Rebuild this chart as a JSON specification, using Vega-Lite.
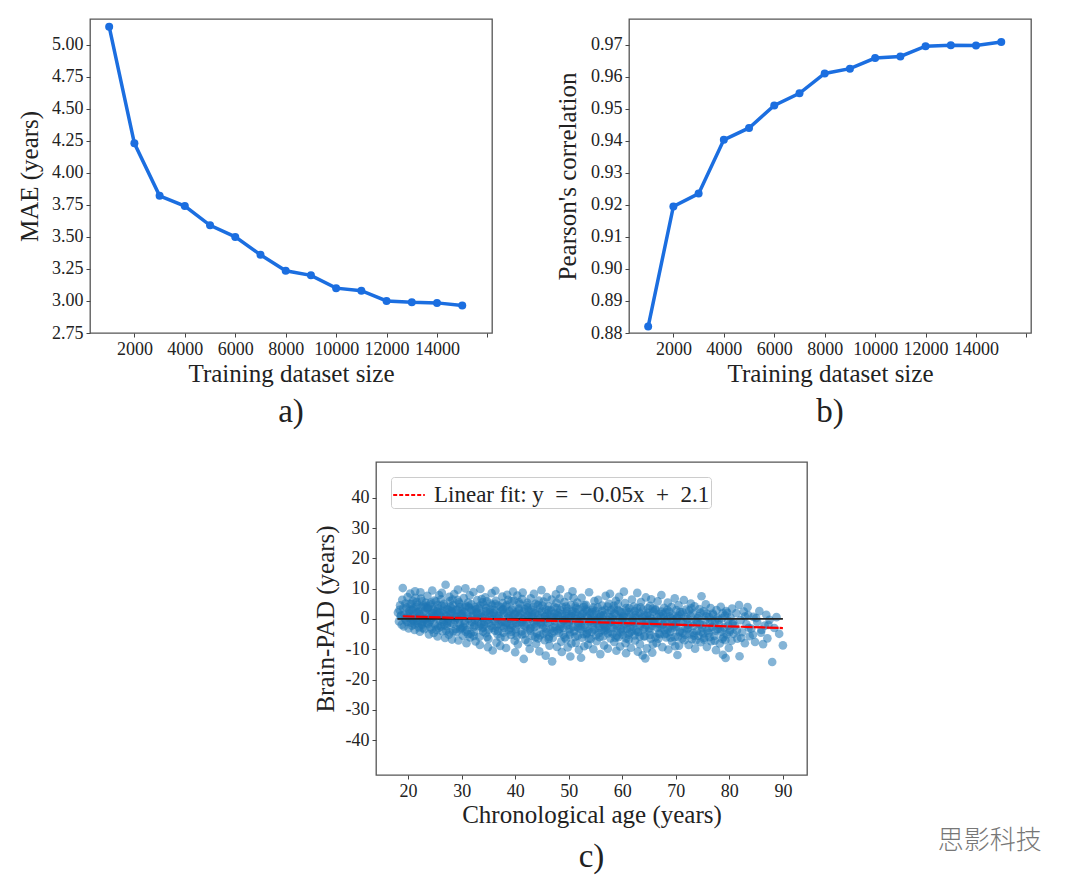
{
  "$schema": "https://vega.github.io/schema/vega-lite/v6.json",
  "background": "white",
  "padding": {"left": 16, "top": 18, "right": 10, "bottom": 0},
  "config": {
    "font": "Liberation Serif",
    "view": {"stroke": "#555", "strokeWidth": 1.3},
    "axis": {
      "domain": false, "grid": false, "tickColor": "#444", "tickSize": 4, "tickWidth": 1, "labelOverlap": false,
      "labelFont": "Liberation Serif", "labelFontSize": 18, "labelColor": "#222", "labelPadding": 3,
      "titleFont": "Liberation Serif", "titleFontSize": 25, "titleFontWeight": "normal", "titleColor": "#222"
    },
    "title": {"font": "Liberation Serif", "fontSize": 33, "fontWeight": "normal", "color": "#222"}
  },
  "title": {"text": "思影科技", "orient": "bottom", "anchor": "end", "font": "Noto Sans CJK SC", "fontSize": 26, "fontWeight": 300, "color": "#777", "dy": -51, "dx": 10},
  "spacing": 31,
  "resolve": {"scale": {"color": "independent"}, "legend": {"color": "independent"}},
  "vconcat": [
    {
      "spacing": 61,
      "hconcat": [
        {
          "width": 402, "height": 314,
          "title": {"text": "a)", "orient": "bottom", "offset": 10},
          "data": {"values": [
            {"size": 1000, "mae": 5.14}, {"size": 2000, "mae": 4.23}, {"size": 3000, "mae": 3.82},
            {"size": 4000, "mae": 3.74}, {"size": 5000, "mae": 3.59}, {"size": 6000, "mae": 3.50},
            {"size": 7000, "mae": 3.36}, {"size": 8000, "mae": 3.235}, {"size": 9000, "mae": 3.20},
            {"size": 10000, "mae": 3.10}, {"size": 11000, "mae": 3.08}, {"size": 12000, "mae": 3.00},
            {"size": 13000, "mae": 2.99}, {"size": 14000, "mae": 2.985}, {"size": 15000, "mae": 2.965}
          ]},
          "mark": {"type": "line", "color": "#1b6ee0", "strokeWidth": 3.5, "point": {"filled": true, "size": 64, "color": "#1b6ee0"}},
          "encoding": {
            "x": {"field": "size", "type": "quantitative", "scale": {"domain": [240, 16180], "nice": false},
              "axis": {"values": [2000, 4000, 6000, 8000, 10000, 12000, 14000, 16000], "format": "d", "labelExpr": "datum.value > 15000 ? '' : datum.label", "title": "Training dataset size", "titlePadding": 3}},
            "y": {"field": "mae", "type": "quantitative", "scale": {"domain": [2.75, 5.2], "nice": false, "zero": false},
              "axis": {"values": [2.75, 3.0, 3.25, 3.5, 3.75, 4.0, 4.25, 4.5, 4.75, 5.0], "format": ".2f", "title": "MAE (years)", "titlePadding": 9}}
          }
        },
        {
          "width": 402, "height": 314,
          "title": {"text": "b)", "orient": "bottom", "offset": 10},
          "data": {"values": [
            {"size": 1000, "r": 0.882}, {"size": 2000, "r": 0.9195}, {"size": 3000, "r": 0.9235},
            {"size": 4000, "r": 0.9403}, {"size": 5000, "r": 0.944}, {"size": 6000, "r": 0.951},
            {"size": 7000, "r": 0.9548}, {"size": 8000, "r": 0.961}, {"size": 9000, "r": 0.9625},
            {"size": 10000, "r": 0.9658}, {"size": 11000, "r": 0.9663}, {"size": 12000, "r": 0.9695},
            {"size": 13000, "r": 0.9698}, {"size": 14000, "r": 0.9697}, {"size": 15000, "r": 0.9708}
          ]},
          "mark": {"type": "line", "color": "#1b6ee0", "strokeWidth": 3.5, "point": {"filled": true, "size": 64, "color": "#1b6ee0"}},
          "encoding": {
            "x": {"field": "size", "type": "quantitative", "scale": {"domain": [240, 16180], "nice": false},
              "axis": {"values": [2000, 4000, 6000, 8000, 10000, 12000, 14000, 16000], "format": "d", "labelExpr": "datum.value > 15000 ? '' : datum.label", "title": "Training dataset size", "titlePadding": 3}},
            "y": {"field": "r", "type": "quantitative", "scale": {"domain": [0.88, 0.978], "nice": false, "zero": false},
              "axis": {"values": [0.88, 0.89, 0.90, 0.91, 0.92, 0.93, 0.94, 0.95, 0.96, 0.97], "format": ".2f", "title": "Pearson's correlation", "titlePadding": 10}}
          }
        }
      ]
    },
    {
      "spacing": 0,
      "resolve": {"scale": {"color": "independent"}, "legend": {"color": "independent"}},
      "hconcat": [
        {
          "width": 222, "height": 10,
          "data": {"values": []},
          "mark": {"type": "point", "opacity": 0},
          "encoding": {},
          "view": {"stroke": null}
        },
        {
          "width": 431, "height": 313,
          "title": {"text": "c)", "orient": "bottom", "offset": 14},
          "encoding": {
            "x": {"field": "age", "type": "quantitative", "scale": {"domain": [14, 94.5], "nice": false},
              "axis": {"values": [20, 30, 40, 50, 60, 70, 80, 90], "title": "Chronological age (years)", "titlePadding": 2}},
            "y": {"field": "pad", "type": "quantitative", "scale": {"domain": [-51.5, 51.8], "nice": false},
              "axis": {"values": [-40, -30, -20, -10, 0, 10, 20, 30, 40], "labelExpr": "'' + datum.value", "title": "Brain-PAD (years)", "titlePadding": 7}}
          },
          "layer": [
            {
              "data": {"values": [
                {"age":18.1,"pad":2.1},{"age":18.3,"pad":-0.8},{"age":18.5,"pad":4.5},{"age":18.6,"pad":0.9},{"age":18.8,"pad":-1.9},{"age":18.9,"pad":6.3},{"age":18.4,"pad":3.0},
                {"age":19.0,"pad":10.2},{"age":19.2,"pad":-2.5},{"age":19.3,"pad":1.4},{"age":19.5,"pad":5.1},{"age":19.6,"pad":-0.4},{"age":19.7,"pad":3.8},{"age":19.9,"pad":7.2},{"age":19.4,"pad":0.2},
                {"age":20.1,"pad":-3.1},{"age":20.2,"pad":2.6},{"age":20.4,"pad":8.4},{"age":20.5,"pad":-1.2},{"age":20.6,"pad":4.9},{"age":20.8,"pad":0.7},{"age":20.9,"pad":6.0},{"age":20.3,"pad":1.8},{"age":20.7,"pad":-2.2},
                {"age":21.0,"pad":3.4},{"age":21.2,"pad":-3.6},{"age":21.3,"pad":9.1},{"age":21.5,"pad":0.3},{"age":21.6,"pad":5.6},{"age":21.8,"pad":-1.5},{"age":21.9,"pad":2.2},{"age":21.4,"pad":7.0},{"age":21.7,"pad":-0.6},
                {"age":22.1,"pad":1.1},{"age":22.2,"pad":-4.2},{"age":22.4,"pad":6.7},{"age":22.5,"pad":3.9},{"age":22.6,"pad":-2.0},{"age":22.8,"pad":0.0},{"age":22.9,"pad":4.4},{"age":22.3,"pad":8.8},{"age":22.7,"pad":-0.9},
                {"age":23.0,"pad":-3.4},{"age":23.2,"pad":2.9},{"age":23.3,"pad":5.3},{"age":23.5,"pad":-1.3},{"age":23.6,"pad":7.6},{"age":23.8,"pad":0.6},{"age":23.9,"pad":-5.1},{"age":23.4,"pad":1.7},{"age":23.7,"pad":3.6},
                {"age":24.1,"pad":4.8},{"age":24.2,"pad":-2.7},{"age":24.4,"pad":0.4},{"age":24.5,"pad":9.4},{"age":24.6,"pad":2.0},{"age":24.8,"pad":-4.6},{"age":24.9,"pad":6.1},{"age":24.3,"pad":-0.3},{"age":24.7,"pad":3.2},
                {"age":25.0,"pad":-1.8},{"age":25.2,"pad":5.7},{"age":25.3,"pad":1.3},{"age":25.5,"pad":-5.8},{"age":25.6,"pad":3.5},{"age":25.8,"pad":7.9},{"age":25.9,"pad":-0.5},{"age":25.4,"pad":2.4},{"age":25.7,"pad":-3.0},
                {"age":26.1,"pad":0.8},{"age":26.2,"pad":6.5},{"age":26.4,"pad":-4.0},{"age":26.5,"pad":2.7},{"age":26.6,"pad":-1.1},{"age":26.8,"pad":4.1},{"age":26.9,"pad":-6.3},{"age":26.3,"pad":8.6},{"age":26.7,"pad":1.5},
                {"age":27.0,"pad":11.3},{"age":27.2,"pad":-2.4},{"age":27.3,"pad":3.3},{"age":27.5,"pad":0.1},{"age":27.6,"pad":-5.2},{"age":27.8,"pad":5.9},{"age":27.9,"pad":1.9},{"age":27.4,"pad":-0.7},{"age":27.7,"pad":7.3},{"age":27.1,"pad":-3.8},
                {"age":28.1,"pad":2.5},{"age":28.2,"pad":-6.8},{"age":28.4,"pad":4.6},{"age":28.5,"pad":-1.6},{"age":28.6,"pad":8.2},{"age":28.8,"pad":0.5},{"age":28.9,"pad":-3.3},{"age":28.3,"pad":6.4},{"age":28.7,"pad":1.0},
                {"age":29.0,"pad":-4.4},{"age":29.2,"pad":3.1},{"age":29.3,"pad":9.7},{"age":29.5,"pad":-0.2},{"age":29.6,"pad":5.0},{"age":29.8,"pad":-2.9},{"age":29.9,"pad":1.6},{"age":29.4,"pad":-7.1},{"age":29.7,"pad":3.9},
                {"age":30.1,"pad":0.9},{"age":30.2,"pad":-5.5},{"age":30.4,"pad":6.9},{"age":30.5,"pad":2.3},{"age":30.6,"pad":-1.4},{"age":30.8,"pad":4.3},{"age":30.9,"pad":-8.0},{"age":30.3,"pad":-2.6},{"age":30.7,"pad":10.1},{"age":30.0,"pad":1.2},
                {"age":31.0,"pad":-3.7},{"age":31.2,"pad":5.4},{"age":31.3,"pad":0.0},{"age":31.5,"pad":7.8},{"age":31.6,"pad":-6.1},{"age":31.8,"pad":2.8},{"age":31.9,"pad":-1.0},{"age":31.4,"pad":3.7},{"age":31.7,"pad":-4.9},
                {"age":32.1,"pad":1.4},{"age":32.2,"pad":8.9},{"age":32.4,"pad":-2.1},{"age":32.5,"pad":4.0},{"age":32.6,"pad":-7.4},{"age":32.8,"pad":0.3},{"age":32.9,"pad":6.2},{"age":32.3,"pad":-4.3},{"age":32.7,"pad":2.1},
                {"age":33.0,"pad":-0.8},{"age":33.2,"pad":3.6},{"age":33.3,"pad":-5.9},{"age":33.5,"pad":9.9},{"age":33.6,"pad":1.8},{"age":33.8,"pad":-3.1},{"age":33.9,"pad":5.5},{"age":33.4,"pad":-8.6},{"age":33.7,"pad":0.6},
                {"age":34.1,"pad":4.7},{"age":34.2,"pad":-1.9},{"age":34.4,"pad":7.1},{"age":34.5,"pad":-4.7},{"age":34.6,"pad":2.4},{"age":34.8,"pad":-0.4},{"age":34.9,"pad":-9.3},{"age":34.3,"pad":1.1},{"age":34.7,"pad":5.8},{"age":34.0,"pad":-2.8},
                {"age":35.0,"pad":-6.6},{"age":35.2,"pad":0.7},{"age":35.3,"pad":3.2},{"age":35.5,"pad":-2.3},{"age":35.6,"pad":8.5},{"age":35.8,"pad":-10.4},{"age":35.9,"pad":1.9},{"age":35.4,"pad":5.1},{"age":35.7,"pad":-0.1},
                {"age":36.1,"pad":2.9},{"age":36.2,"pad":-3.9},{"age":36.4,"pad":6.0},{"age":36.5,"pad":-7.8},{"age":36.6,"pad":0.2},{"age":36.8,"pad":4.4},{"age":36.9,"pad":-1.7},{"age":36.3,"pad":9.3},{"age":36.7,"pad":-5.0},
                {"age":37.0,"pad":1.0},{"age":37.2,"pad":-8.9},{"age":37.3,"pad":3.8},{"age":37.5,"pad":-0.9},{"age":37.6,"pad":7.4},{"age":37.8,"pad":-4.5},{"age":37.9,"pad":2.0},{"age":37.4,"pad":-2.4},{"age":37.7,"pad":5.2},
                {"age":38.1,"pad":-6.0},{"age":38.2,"pad":4.1},{"age":38.4,"pad":-1.3},{"age":38.5,"pad":8.0},{"age":38.6,"pad":0.4},{"age":38.8,"pad":-3.6},{"age":38.9,"pad":2.6},{"age":38.3,"pad":-9.6},{"age":38.7,"pad":6.3},
                {"age":39.0,"pad":0.1},{"age":39.2,"pad":-5.3},{"age":39.3,"pad":5.9},{"age":39.5,"pad":-2.0},{"age":39.6,"pad":9.0},{"age":39.8,"pad":1.5},{"age":39.9,"pad":-7.2},{"age":39.4,"pad":3.0},{"age":39.7,"pad":-0.6},
                {"age":40.1,"pad":-3.4},{"age":40.2,"pad":2.2},{"age":40.4,"pad":7.7},{"age":40.5,"pad":-8.4},{"age":40.6,"pad":0.8},{"age":40.8,"pad":4.9},{"age":40.9,"pad":-1.1},{"age":40.3,"pad":-5.7},{"age":40.7,"pad":3.4},{"age":40.0,"pad":-11.0},
                {"age":41.0,"pad":1.7},{"age":41.2,"pad":-4.1},{"age":41.3,"pad":6.6},{"age":41.5,"pad":-0.3},{"age":41.6,"pad":-13.2},{"age":41.8,"pad":3.3},{"age":41.9,"pad":-6.9},{"age":41.4,"pad":8.7},{"age":41.7,"pad":-2.2},
                {"age":42.1,"pad":-1.6},{"age":42.2,"pad":4.5},{"age":42.4,"pad":-7.7},{"age":42.5,"pad":2.7},{"age":42.6,"pad":0.0},{"age":42.8,"pad":-3.9},{"age":42.9,"pad":6.8},{"age":42.3,"pad":1.2},{"age":42.7,"pad":-9.9},
                {"age":43.0,"pad":3.0},{"age":43.2,"pad":-5.6},{"age":43.3,"pad":0.5},{"age":43.5,"pad":8.3},{"age":43.6,"pad":-2.7},{"age":43.8,"pad":5.0},{"age":43.9,"pad":-8.2},{"age":43.4,"pad":-0.9},{"age":43.7,"pad":1.9},
                {"age":44.1,"pad":-4.8},{"age":44.2,"pad":1.3},{"age":44.4,"pad":6.1},{"age":44.5,"pad":-10.7},{"age":44.6,"pad":3.5},{"age":44.8,"pad":-1.5},{"age":44.9,"pad":9.5},{"age":44.3,"pad":-6.4},{"age":44.7,"pad":0.3},
                {"age":45.0,"pad":2.4},{"age":45.2,"pad":-2.9},{"age":45.3,"pad":5.7},{"age":45.5,"pad":-7.0},{"age":45.6,"pad":0.9},{"age":45.8,"pad":-4.4},{"age":45.9,"pad":7.2},{"age":45.4,"pad":-0.2},{"age":45.7,"pad":-12.1},
                {"age":46.1,"pad":-1.2},{"age":46.2,"pad":4.2},{"age":46.4,"pad":-8.8},{"age":46.5,"pad":1.6},{"age":46.6,"pad":-3.5},{"age":46.8,"pad":6.4},{"age":46.9,"pad":-14.0},{"age":46.3,"pad":-5.9},{"age":46.7,"pad":2.8},{"age":46.0,"pad":0.1},
                {"age":47.0,"pad":-6.3},{"age":47.2,"pad":0.6},{"age":47.3,"pad":3.9},{"age":47.5,"pad":-2.5},{"age":47.6,"pad":8.1},{"age":47.8,"pad":-9.2},{"age":47.9,"pad":1.4},{"age":47.4,"pad":-0.7},{"age":47.7,"pad":5.3},
                {"age":48.1,"pad":2.0},{"age":48.2,"pad":-4.6},{"age":48.4,"pad":9.8},{"age":48.5,"pad":-1.8},{"age":48.6,"pad":-7.5},{"age":48.8,"pad":4.0},{"age":48.9,"pad":-0.4},{"age":48.3,"pad":6.7},{"age":48.7,"pad":-10.9},
                {"age":49.0,"pad":-3.0},{"age":49.2,"pad":5.6},{"age":49.3,"pad":-0.1},{"age":49.5,"pad":-6.7},{"age":49.6,"pad":2.5},{"age":49.8,"pad":-9.4},{"age":49.9,"pad":7.5},{"age":49.4,"pad":1.0},{"age":49.7,"pad":-2.1},
                {"age":50.1,"pad":0.4},{"age":50.2,"pad":-5.2},{"age":50.4,"pad":4.6},{"age":50.5,"pad":-8.1},{"age":50.6,"pad":1.8},{"age":50.8,"pad":-2.6},{"age":50.9,"pad":6.9},{"age":50.3,"pad":-12.4},{"age":50.7,"pad":9.1},{"age":50.0,"pad":-0.9},
                {"age":51.0,"pad":-4.0},{"age":51.2,"pad":2.3},{"age":51.3,"pad":-7.9},{"age":51.5,"pad":0.0},{"age":51.6,"pad":5.4},{"age":51.8,"pad":-1.4},{"age":51.9,"pad":-10.2},{"age":51.4,"pad":3.6},{"age":51.7,"pad":-5.5},
                {"age":52.1,"pad":1.1},{"age":52.2,"pad":-3.3},{"age":52.4,"pad":7.0},{"age":52.5,"pad":-6.2},{"age":52.6,"pad":-0.6},{"age":52.8,"pad":3.9},{"age":52.9,"pad":-9.0},{"age":52.3,"pad":-12.8},{"age":52.7,"pad":2.0},
                {"age":53.0,"pad":-2.0},{"age":53.2,"pad":4.7},{"age":53.3,"pad":-5.0},{"age":53.5,"pad":0.8},{"age":53.6,"pad":-8.5},{"age":53.8,"pad":8.8},{"age":53.9,"pad":-1.0},{"age":53.4,"pad":2.6},{"age":53.7,"pad":-3.8},
                {"age":54.1,"pad":-6.6},{"age":54.2,"pad":0.2},{"age":54.4,"pad":3.1},{"age":54.5,"pad":-2.8},{"age":54.6,"pad":-10.0},{"age":54.8,"pad":5.9},{"age":54.9,"pad":-0.3},{"age":54.3,"pad":-4.3},{"age":54.7,"pad":1.5},
                {"age":55.0,"pad":2.6},{"age":55.2,"pad":-7.3},{"age":55.3,"pad":-1.5},{"age":55.5,"pad":6.3},{"age":55.6,"pad":-4.7},{"age":55.8,"pad":0.5},{"age":55.9,"pad":-11.6},{"age":55.4,"pad":3.8},{"age":55.7,"pad":-2.3},
                {"age":56.1,"pad":-0.8},{"age":56.2,"pad":4.4},{"age":56.4,"pad":-5.8},{"age":56.5,"pad":1.3},{"age":56.6,"pad":-8.7},{"age":56.8,"pad":-2.9},{"age":56.9,"pad":7.6},{"age":56.3,"pad":0.0},{"age":56.7,"pad":-4.0},
                {"age":57.0,"pad":-3.5},{"age":57.2,"pad":1.9},{"age":57.3,"pad":-9.8},{"age":57.5,"pad":5.0},{"age":57.6,"pad":-1.2},{"age":57.8,"pad":-6.4},{"age":57.9,"pad":2.9},{"age":57.4,"pad":-0.5},{"age":57.7,"pad":8.3},
                {"age":58.1,"pad":0.6},{"age":58.2,"pad":-4.9},{"age":58.4,"pad":3.4},{"age":58.5,"pad":-7.6},{"age":58.6,"pad":-1.9},{"age":58.8,"pad":6.0},{"age":58.9,"pad":-10.5},{"age":58.3,"pad":-3.0},{"age":58.7,"pad":1.7},
                {"age":59.0,"pad":-2.4},{"age":59.2,"pad":4.8},{"age":59.3,"pad":-6.0},{"age":59.5,"pad":0.3},{"age":59.6,"pad":-9.1},{"age":59.8,"pad":2.2},{"age":59.9,"pad":-0.9},{"age":59.4,"pad":7.3},{"age":59.7,"pad":-4.4},
                {"age":60.1,"pad":-5.3},{"age":60.2,"pad":1.0},{"age":60.4,"pad":-1.6},{"age":60.5,"pad":5.2},{"age":60.6,"pad":-8.0},{"age":60.8,"pad":2.7},{"age":60.9,"pad":-3.2},{"age":60.3,"pad":9.0},{"age":60.7,"pad":-11.3},
                {"age":61.0,"pad":0.7},{"age":61.2,"pad":-6.8},{"age":61.3,"pad":3.6},{"age":61.5,"pad":-2.7},{"age":61.6,"pad":-9.5},{"age":61.8,"pad":6.4},{"age":61.9,"pad":-0.2},{"age":61.4,"pad":-4.5},
                {"age":62.1,"pad":-1.1},{"age":62.2,"pad":4.1},{"age":62.4,"pad":-7.1},{"age":62.5,"pad":1.4},{"age":62.6,"pad":-3.7},{"age":62.8,"pad":8.6},{"age":62.9,"pad":-10.8},{"age":62.3,"pad":-5.4},
                {"age":63.0,"pad":-4.2},{"age":63.2,"pad":2.0},{"age":63.3,"pad":-8.3},{"age":63.5,"pad":5.6},{"age":63.6,"pad":-0.7},{"age":63.8,"pad":-12.0},{"age":63.9,"pad":3.0},{"age":63.4,"pad":-2.2},
                {"age":64.1,"pad":1.2},{"age":64.2,"pad":-5.7},{"age":64.4,"pad":7.1},{"age":64.5,"pad":-2.0},{"age":64.6,"pad":-9.7},{"age":64.8,"pad":3.5},{"age":64.9,"pad":-0.4},{"age":64.3,"pad":-13.0},
                {"age":65.0,"pad":-3.1},{"age":65.2,"pad":4.3},{"age":65.3,"pad":-6.5},{"age":65.5,"pad":0.1},{"age":65.6,"pad":-11.1},{"age":65.8,"pad":2.4},{"age":65.9,"pad":-1.5},{"age":65.4,"pad":6.5},{"age":65.7,"pad":-8.4},
                {"age":66.1,"pad":-0.6},{"age":66.2,"pad":3.2},{"age":66.4,"pad":-7.9},{"age":66.5,"pad":-2.9},{"age":66.6,"pad":5.8},{"age":66.8,"pad":-4.8},{"age":66.9,"pad":1.6},
                {"age":67.0,"pad":-5.0},{"age":67.2,"pad":0.9},{"age":67.3,"pad":7.9},{"age":67.5,"pad":-9.3},{"age":67.6,"pad":-1.8},{"age":67.8,"pad":3.7},{"age":67.9,"pad":-3.6},
                {"age":68.1,"pad":2.1},{"age":68.2,"pad":-6.1},{"age":68.4,"pad":-0.3},{"age":68.5,"pad":5.4},{"age":68.6,"pad":-10.1},{"age":68.8,"pad":-2.5},{"age":68.9,"pad":0.8},
                {"age":69.0,"pad":-4.3},{"age":69.2,"pad":3.9},{"age":69.3,"pad":-7.4},{"age":69.5,"pad":1.2},{"age":69.6,"pad":-1.9},{"age":69.8,"pad":6.8},{"age":69.9,"pad":-9.0},
                {"age":70.1,"pad":-2.6},{"age":70.2,"pad":0.4},{"age":70.4,"pad":-5.9},{"age":70.5,"pad":4.5},{"age":70.6,"pad":-8.8},{"age":70.8,"pad":2.3},{"age":70.9,"pad":-0.9},{"age":70.3,"pad":-11.9},
                {"age":71.0,"pad":1.5},{"age":71.2,"pad":-4.6},{"age":71.3,"pad":-1.0},{"age":71.5,"pad":6.2},{"age":71.6,"pad":-7.0},{"age":71.8,"pad":-2.8},{"age":71.9,"pad":3.1},
                {"age":72.1,"pad":-3.4},{"age":72.2,"pad":0.0},{"age":72.4,"pad":-8.6},{"age":72.5,"pad":2.8},{"age":72.6,"pad":-5.1},{"age":72.8,"pad":5.1},{"age":72.9,"pad":-1.4},
                {"age":73.0,"pad":-6.7},{"age":73.2,"pad":1.8},{"age":73.3,"pad":-2.3},{"age":73.5,"pad":4.2},{"age":73.6,"pad":-9.8},{"age":73.8,"pad":-0.5},{"age":73.9,"pad":-4.0},
                {"age":74.1,"pad":0.3},{"age":74.2,"pad":-5.5},{"age":74.4,"pad":3.3},{"age":74.5,"pad":-1.7},{"age":74.6,"pad":-7.7},{"age":74.8,"pad":7.5},{"age":74.9,"pad":-3.0},
                {"age":75.0,"pad":-2.0},{"age":75.2,"pad":2.5},{"age":75.3,"pad":-6.3},{"age":75.5,"pad":-0.4},{"age":75.6,"pad":4.8},{"age":75.8,"pad":-9.2},{"age":75.9,"pad":-3.9},
                {"age":76.1,"pad":-4.7},{"age":76.2,"pad":0.6},{"age":76.4,"pad":-1.3},{"age":76.5,"pad":3.6},{"age":76.6,"pad":-7.3},{"age":76.8,"pad":-2.6},
                {"age":77.0,"pad":1.4},{"age":77.2,"pad":-5.6},{"age":77.3,"pad":-0.8},{"age":77.5,"pad":-10.3},{"age":77.6,"pad":2.9},{"age":77.8,"pad":-3.3},
                {"age":78.1,"pad":-1.9},{"age":78.2,"pad":-8.1},{"age":78.4,"pad":4.0},{"age":78.5,"pad":-4.2},{"age":78.6,"pad":0.2},{"age":78.8,"pad":-11.8},{"age":78.9,"pad":-6.0},
                {"age":79.0,"pad":-2.8},{"age":79.2,"pad":1.1},{"age":79.3,"pad":-12.9},{"age":79.5,"pad":-5.1},{"age":79.6,"pad":2.0},{"age":79.8,"pad":-0.6},{"age":79.9,"pad":-9.6},
                {"age":80.1,"pad":-3.7},{"age":80.2,"pad":0.5},{"age":80.4,"pad":-7.2},{"age":80.5,"pad":3.4},{"age":80.6,"pad":-1.6},{"age":80.8,"pad":-4.9},
                {"age":81.0,"pad":-2.3},{"age":81.3,"pad":1.9},{"age":81.5,"pad":-6.5},{"age":81.8,"pad":4.6},{"age":81.9,"pad":-12.3},
                {"age":82.1,"pad":-0.4},{"age":82.4,"pad":-4.4},{"age":82.7,"pad":2.4},{"age":82.9,"pad":-8.0},
                {"age":83.2,"pad":-1.8},{"age":83.5,"pad":1.3},{"age":83.8,"pad":-5.7},{"age":83.4,"pad":3.9},
                {"age":84.1,"pad":-3.2},{"age":84.5,"pad":0.7},{"age":84.8,"pad":-7.6},
                {"age":85.2,"pad":-1.0},{"age":85.6,"pad":2.6},{"age":85.9,"pad":-4.5},
                {"age":86.3,"pad":-8.3},{"age":86.6,"pad":-2.2},{"age":86.9,"pad":1.4},
                {"age":87.1,"pad":-6.4},{"age":87.5,"pad":-0.3},
                {"age":88.0,"pad":-14.2},{"age":88.4,"pad":-3.0},{"age":88.8,"pad":0.6},
                {"age":89.3,"pad":-4.9},{"age":90.0,"pad":-8.7},
                {"age":20.0,"pad":1.0},{"age":20.5,"pad":3.1},{"age":21.1,"pad":-0.8},{"age":21.6,"pad":2.0},
                {"age":22.0,"pad":2.4},{"age":22.5,"pad":-1.6},{"age":23.1,"pad":0.3},{"age":23.6,"pad":3.4},
                {"age":24.0,"pad":-1.0},{"age":24.5,"pad":1.9},{"age":25.1,"pad":0.6},{"age":25.6,"pad":-2.2},
                {"age":26.0,"pad":2.2},{"age":26.5,"pad":-0.3},{"age":27.1,"pad":1.0},{"age":27.6,"pad":3.0},
                {"age":28.0,"pad":-1.2},{"age":28.5,"pad":2.0},{"age":29.1,"pad":0.5},{"age":29.6,"pad":-1.8},
                {"age":30.0,"pad":2.7},{"age":30.5,"pad":-0.6},{"age":31.1,"pad":1.1},{"age":31.6,"pad":-2.0},
                {"age":32.0,"pad":3.0},{"age":32.5,"pad":-0.2},{"age":33.1,"pad":1.5},{"age":33.6,"pad":-1.7},
                {"age":34.0,"pad":0.2},{"age":34.5,"pad":2.6},{"age":35.1,"pad":-1.3},{"age":35.6,"pad":1.2},
                {"age":36.0,"pad":2.0},{"age":36.5,"pad":-2.4},{"age":37.1,"pad":0.0},{"age":37.6,"pad":3.0},
                {"age":38.0,"pad":-1.0},{"age":38.5,"pad":1.8},{"age":39.1,"pad":-3.0},{"age":39.6,"pad":0.5},
                {"age":40.0,"pad":1.6},{"age":40.5,"pad":-1.9},{"age":41.1,"pad":0.2},{"age":41.6,"pad":2.4},
                {"age":42.0,"pad":-2.5},{"age":42.5,"pad":0.9},{"age":43.1,"pad":1.3},{"age":43.6,"pad":-1.5},
                {"age":44.0,"pad":-0.4},{"age":44.5,"pad":2.1},{"age":45.1,"pad":-2.0},{"age":45.6,"pad":0.7},
                {"age":46.0,"pad":1.9},{"age":46.5,"pad":-0.9},{"age":47.1,"pad":-2.8},{"age":47.6,"pad":0.3},
                {"age":48.0,"pad":1.0},{"age":48.5,"pad":-2.6},{"age":49.1,"pad":-0.5},{"age":49.6,"pad":1.7},
                {"age":50.0,"pad":-1.9},{"age":50.5,"pad":0.9},{"age":51.1,"pad":1.2},{"age":51.6,"pad":-2.6},
                {"age":52.0,"pad":-0.7},{"age":52.5,"pad":1.6},{"age":53.1,"pad":-2.9},{"age":53.6,"pad":0.1},
                {"age":54.0,"pad":1.8},{"age":54.5,"pad":-1.4},{"age":55.1,"pad":-0.6},{"age":55.6,"pad":-3.0},
                {"age":56.0,"pad":1.0},{"age":56.5,"pad":-1.8},{"age":57.1,"pad":-2.4},{"age":57.6,"pad":0.6},
                {"age":58.0,"pad":-0.9},{"age":58.5,"pad":1.8},{"age":59.1,"pad":-3.1},{"age":59.6,"pad":-0.2},
                {"age":60.0,"pad":0.3},{"age":60.5,"pad":-2.1},{"age":61.1,"pad":-1.3},{"age":61.6,"pad":1.5},
                {"age":62.0,"pad":-2.6},{"age":62.5,"pad":0.4},{"age":63.1,"pad":0.9},{"age":63.6,"pad":-1.6},
                {"age":64.0,"pad":-3.4},{"age":64.5,"pad":-0.5},{"age":65.1,"pad":1.1},{"age":65.6,"pad":-2.3},
                {"age":66.0,"pad":-1.2},{"age":66.5,"pad":0.6},{"age":67.1,"pad":-2.9},{"age":67.6,"pad":1.6},
                {"age":68.0,"pad":-0.8},{"age":68.5,"pad":-3.5},{"age":69.1,"pad":0.2},{"age":69.6,"pad":-2.4},
                {"age":70.0,"pad":-1.5},{"age":70.5,"pad":1.0},
                {"age":18.7,"pad":1.2},{"age":19.1,"pad":3.5},{"age":19.8,"pad":-1.0},{"age":20.3,"pad":5.0},{"age":20.9,"pad":-0.5},
                {"age":21.5,"pad":4.0},{"age":22.0,"pad":-2.8},{"age":22.6,"pad":5.8},{"age":23.2,"pad":-0.2},{"age":23.8,"pad":4.2},
                {"age":24.4,"pad":-3.5},{"age":24.9,"pad":2.8},{"age":25.5,"pad":4.6},{"age":26.1,"pad":-2.5},{"age":26.7,"pad":5.0},
                {"age":27.3,"pad":-1.5},{"age":27.9,"pad":4.0},{"age":28.4,"pad":-4.0},{"age":29.0,"pad":2.9},{"age":29.5,"pad":5.5},
                {"age":30.1,"pad":-3.0},{"age":30.6,"pad":3.8},{"age":31.2,"pad":-5.0},{"age":31.8,"pad":4.8},{"age":32.3,"pad":-2.6},
                {"age":32.9,"pad":2.0},{"age":33.4,"pad":4.4},{"age":34.0,"pad":-4.2},{"age":34.6,"pad":3.6},{"age":35.1,"pad":-3.5},
                {"age":35.7,"pad":4.5},{"age":36.2,"pad":-0.7},{"age":36.8,"pad":-4.0},{"age":37.3,"pad":2.5},{"age":37.9,"pad":-3.0},
                {"age":38.4,"pad":4.6},{"age":39.0,"pad":-1.9},{"age":39.5,"pad":3.4},{"age":40.1,"pad":-4.5},{"age":40.7,"pad":5.5},
                {"age":41.2,"pad":-1.2},{"age":41.8,"pad":-5.0},{"age":42.3,"pad":3.8},{"age":42.9,"pad":-3.0},{"age":43.4,"pad":4.0},
                {"age":44.0,"pad":-2.2},{"age":44.6,"pad":-5.4},{"age":45.1,"pad":4.4},{"age":45.7,"pad":-3.2},{"age":46.2,"pad":2.9},
                {"age":46.8,"pad":-4.8},{"age":47.3,"pad":1.8},{"age":47.9,"pad":-3.8},{"age":48.4,"pad":3.0},{"age":49.0,"pad":-5.2},
                {"age":49.5,"pad":4.1},{"age":50.1,"pad":-3.4},{"age":50.7,"pad":2.6},{"age":51.2,"pad":-5.9},{"age":51.8,"pad":3.2},
                {"age":52.3,"pad":-2.4},{"age":52.9,"pad":4.5},{"age":53.4,"pad":-4.6},{"age":54.0,"pad":-0.6},{"age":54.6,"pad":3.8},
                {"age":55.1,"pad":-5.4},{"age":55.7,"pad":1.5},{"age":56.2,"pad":-3.6},{"age":56.8,"pad":3.0},{"age":57.3,"pad":-4.8},
                {"age":57.9,"pad":-1.0},{"age":58.4,"pad":4.3},{"age":59.0,"pad":-5.5},{"age":59.5,"pad":2.5},{"age":60.1,"pad":-3.8},
                {"age":60.7,"pad":3.6},{"age":61.2,"pad":-5.2},{"age":61.8,"pad":-0.8},{"age":62.3,"pad":2.6},{"age":62.9,"pad":-4.4},
                {"age":63.4,"pad":3.8},{"age":64.0,"pad":-5.8},{"age":64.6,"pad":1.0},{"age":65.1,"pad":-4.0},{"age":65.7,"pad":3.4},
                {"age":66.2,"pad":-6.0},{"age":66.8,"pad":-1.5},{"age":67.3,"pad":2.4},{"age":67.9,"pad":-5.0},{"age":68.4,"pad":3.0},
                {"age":69.0,"pad":-6.2},{"age":69.5,"pad":-0.5},{"age":70.1,"pad":2.9},{"age":70.7,"pad":-4.4},{"age":71.2,"pad":-6.4},
                {"age":71.8,"pad":0.6},{"age":72.3,"pad":-3.0},{"age":72.9,"pad":3.5},{"age":73.4,"pad":-5.5},{"age":74.0,"pad":-1.2},
                {"age":74.6,"pad":2.0},{"age":75.1,"pad":-4.8},{"age":75.7,"pad":0.9},{"age":76.3,"pad":-6.0},{"age":76.9,"pad":1.8},
                {"age":77.4,"pad":-3.9},{"age":78.0,"pad":-0.4},{"age":78.7,"pad":-6.6},{"age":79.4,"pad":2.6},{"age":80.0,"pad":-4.4},
                {"age":80.7,"pad":-1.0},{"age":81.4,"pad":-3.8},{"age":82.2,"pad":-6.3},{"age":82.9,"pad":0.8},{"age":83.6,"pad":-2.9},
                {"age":84.4,"pad":-5.2},{"age":85.0,"pad":0.3},{"age":86.0,"pad":-3.6},{"age":87.3,"pad":-2.0},
                {"age":20.25,"pad":0.4},{"age":20.75,"pad":2.9},{"age":21.25,"pad":-1.9},{"age":21.75,"pad":4.6},{"age":22.25,"pad":1.5},
                {"age":22.75,"pad":-3.0},{"age":23.25,"pad":3.9},{"age":23.75,"pad":-1.6},{"age":24.25,"pad":5.4},{"age":24.75,"pad":0.9},
                {"age":25.25,"pad":-3.6},{"age":25.75,"pad":1.9},{"age":26.25,"pad":4.4},{"age":26.75,"pad":-2.0},{"age":27.25,"pad":0.6},
                {"age":27.75,"pad":-4.4},{"age":28.25,"pad":3.4},{"age":28.75,"pad":-0.4},{"age":29.25,"pad":6.2},{"age":29.75,"pad":-3.4},
                {"age":30.25,"pad":1.6},{"age":30.75,"pad":-4.2},{"age":31.25,"pad":4.1},{"age":31.75,"pad":0.8},{"age":32.25,"pad":-5.6},
                {"age":32.75,"pad":3.3},{"age":33.25,"pad":-2.4},{"age":33.75,"pad":6.6},{"age":34.25,"pad":-0.9},{"age":34.75,"pad":-5.9},
                {"age":35.25,"pad":2.1},{"age":35.75,"pad":-3.0},{"age":36.25,"pad":5.0},{"age":36.75,"pad":1.0},{"age":37.25,"pad":-6.2},
                {"age":37.75,"pad":3.2},{"age":38.25,"pad":-2.0},{"age":38.75,"pad":0.9},{"age":39.25,"pad":-4.2},{"age":39.75,"pad":6.1},
                {"age":40.25,"pad":-1.4},{"age":40.75,"pad":2.9},{"age":41.25,"pad":-5.1},{"age":41.75,"pad":0.6},{"age":42.25,"pad":5.3},
                {"age":42.75,"pad":-3.3},{"age":43.25,"pad":2.3},{"age":43.75,"pad":-6.0},{"age":44.25,"pad":4.6},{"age":44.75,"pad":-1.0},
                {"age":45.25,"pad":-4.9},{"age":45.75,"pad":3.1},{"age":46.25,"pad":-6.6},{"age":46.75,"pad":0.4},{"age":47.25,"pad":-4.0},
                {"age":47.75,"pad":3.6},{"age":48.25,"pad":-3.2},{"age":48.75,"pad":1.5},{"age":49.25,"pad":-6.1},{"age":49.75,"pad":3.4},
                {"age":50.25,"pad":-4.4},{"age":50.75,"pad":-0.4},{"age":51.25,"pad":4.2},{"age":51.75,"pad":-3.0},{"age":52.25,"pad":0.5},
                {"age":52.75,"pad":-5.0},{"age":53.25,"pad":3.1},{"age":53.75,"pad":-6.5},{"age":54.25,"pad":2.3},{"age":54.75,"pad":-3.5},
                {"age":55.25,"pad":0.0},{"age":55.75,"pad":-6.0},{"age":56.25,"pad":2.6},{"age":56.75,"pad":-2.2},{"age":57.25,"pad":4.1},
                {"age":57.75,"pad":-4.2},{"age":58.25,"pad":-0.2},{"age":58.75,"pad":-6.2},{"age":59.25,"pad":2.9},{"age":59.75,"pad":-3.3},
                {"age":60.25,"pad":0.6},{"age":60.75,"pad":-6.4},{"age":61.25,"pad":2.2},{"age":61.75,"pad":-4.1},{"age":62.25,"pad":-1.5},
                {"age":62.75,"pad":3.5},{"age":63.25,"pad":-5.8},{"age":63.75,"pad":0.4},{"age":64.25,"pad":-3.0},{"age":64.75,"pad":2.0},
                {"age":65.25,"pad":-5.3},{"age":65.75,"pad":-0.8},{"age":66.25,"pad":2.9},{"age":66.75,"pad":-6.5},{"age":67.25,"pad":-2.2},
                {"age":67.75,"pad":0.3},{"age":68.25,"pad":-4.8},{"age":68.75,"pad":2.4},{"age":69.25,"pad":-3.1},{"age":69.75,"pad":-6.0},
                {"age":70.25,"pad":0.2},{"age":70.75,"pad":-3.9},{"age":71.25,"pad":2.2},{"age":71.75,"pad":-5.2},{"age":72.25,"pad":-1.9},
                {"age":72.75,"pad":1.0},{"age":73.25,"pad":-4.6},{"age":73.75,"pad":-7.0},{"age":74.25,"pad":0.9},{"age":74.75,"pad":-4.2},
                {"age":75.25,"pad":-6.8},{"age":75.75,"pad":1.8},{"age":76.25,"pad":-3.0},{"age":76.75,"pad":-0.6},{"age":77.25,"pad":-7.2},
                {"age":77.75,"pad":0.3},{"age":78.25,"pad":-3.4},{"age":78.75,"pad":1.9},{"age":79.25,"pad":-7.0},{"age":79.75,"pad":-2.2}
              ]},
              "mark": {"type": "circle", "size": 75, "color": "#1f77b4", "opacity": 0.55}
            },
            {
              "data": {"values": [{"age": 18, "pad": 0}, {"age": 90, "pad": 0}]},
              "mark": {"type": "line", "color": "#222", "strokeWidth": 1.8}
            },
            {
              "data": {"values": [{"age": 19, "pad": 0.9}, {"age": 90, "pad": -3.0}]},
              "mark": {"type": "line", "strokeWidth": 2.2, "strokeDash": [12, 1]},
              "encoding": {
                "color": {"datum": "Linear fit: y\u2002=\u2002−0.05x\u2002+\u20022.1", "scale": {"range": ["#ff0000"]},
                  "legend": {"title": null, "orient": "top-left", "offset": 15, "fillColor": "white", "strokeColor": "#ccc", "cornerRadius": 3, "padding": 1,
                    "symbolType": "stroke", "symbolStrokeWidth": 2, "symbolDash": [4, 2], "symbolSize": 1000, "symbolStrokeColor": "#ff0000", "labelOffset": 8,
                    "labelFont": "Liberation Serif", "labelFontSize": 23, "labelColor": "#222", "labelLimit": 400}}
              }
            }
          ]
        }
      ]
    }
  ]
}
